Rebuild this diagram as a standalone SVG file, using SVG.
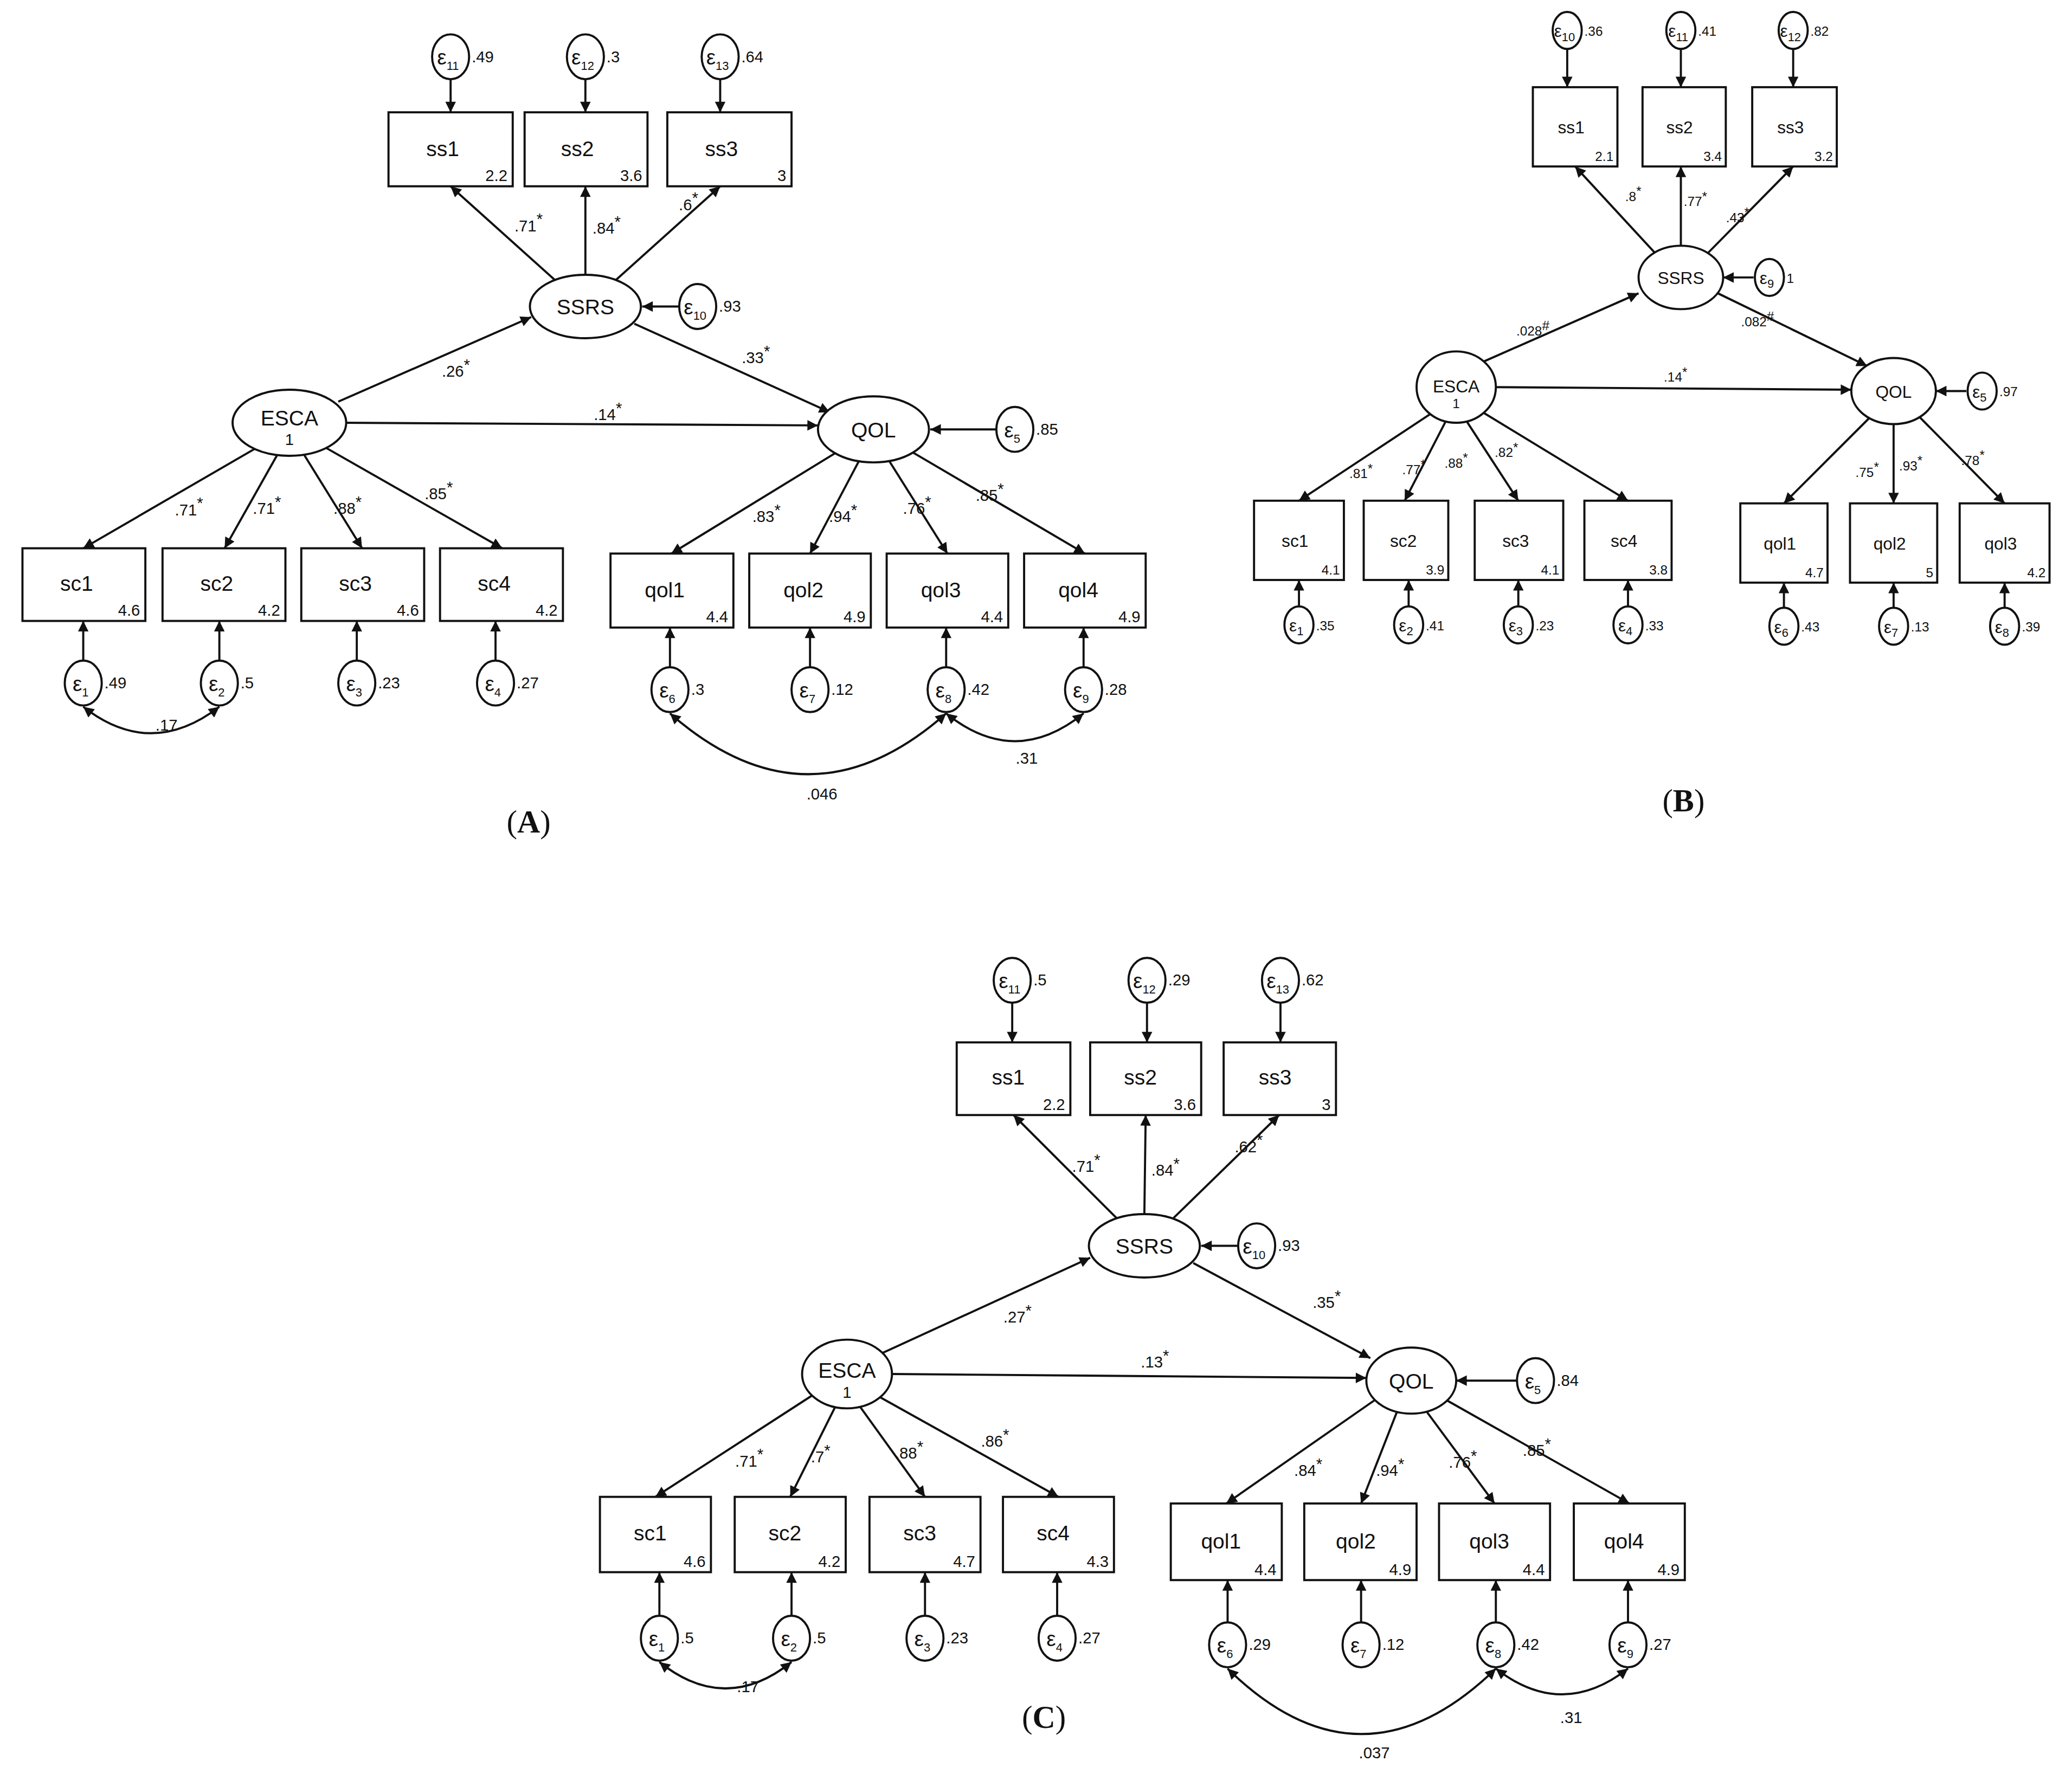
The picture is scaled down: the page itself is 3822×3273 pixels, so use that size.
<svg xmlns="http://www.w3.org/2000/svg" width="3822" height="3273" viewBox="0 0 3822 3273">
<style>
.n{fill:#fff;stroke:#111;stroke-width:1.6}
.e{fill:none;stroke:#111;stroke-width:1.6;marker-end:url(#ah)}
.c{fill:none;stroke:#111;stroke-width:1.6;marker-end:url(#ah);marker-start:url(#ah)}
text{font-family:"Liberation Sans",Arial,sans-serif;fill:#111}
.L{font-size:16px;text-anchor:middle}
.s{font-size:12px}
.sb{font-size:9px}
.l{font-size:12px;text-anchor:middle}
.bL{font-size:13px;text-anchor:middle}
.bs{font-size:10px}
.bl{font-size:10px;text-anchor:middle}
.P{font-family:"Liberation Serif","Times New Roman",serif;font-size:24px;text-anchor:middle}
</style>
<defs>
<marker id="ah" viewBox="0 0 10 10" refX="10" refY="5" markerWidth="6" markerHeight="5" orient="auto-start-reverse"><path d="M0,0L10,5L0,10z" fill="#111"/></marker>
</defs>
<rect width="3822" height="3273" fill="#fff"/>
<g transform="scale(2.4375)">
<!-- Panel A connectors -->
<g id="connA">
<path class="e" d="M341,60L341,85"/><path class="e" d="M443,60L443,85"/><path class="e" d="M545,60L545,85"/>
<path class="e" d="M420,212L341,141"/><path class="e" d="M443,208L443,141"/><path class="e" d="M466,212L545,141"/>
<path class="e" d="M514,232L486,232"/>
<path class="e" d="M256,304L402,240"/><path class="e" d="M480,245L628,312"/><path class="e" d="M262,320L619,322"/>
<path class="e" d="M754,325L704,325"/>
<path class="e" d="M194,339L63,415"/><path class="e" d="M210,344L170,415"/><path class="e" d="M230,344L274,415"/><path class="e" d="M245,338L380,415"/>
<path class="e" d="M632,343L508,419"/><path class="e" d="M650,349L613,419"/><path class="e" d="M673,349L717,419"/><path class="e" d="M690,342L821,419"/>
<path class="e" d="M63,500L63,470"/><path class="e" d="M166,500L166,470"/><path class="e" d="M270,500L270,470"/><path class="e" d="M375,500L375,470"/>
<path class="e" d="M507,505L507,475"/><path class="e" d="M613,505L613,475"/><path class="e" d="M716,505L716,475"/><path class="e" d="M820,505L820,475"/>
<path class="c" d="M63,535Q114,575 166,535"/><path class="c" d="M507,540Q612,632 716,540"/><path class="c" d="M716,540Q768,582 820,540"/>
<text class="l" x="400" y="175">.71<tspan dy="-5">*</tspan></text>
<text class="l" x="459" y="177">.84<tspan dy="-5">*</tspan></text>
<text class="l" x="521" y="159">.6<tspan dy="-5">*</tspan></text>
<text class="l" x="345" y="285">.26<tspan dy="-5">*</tspan></text>
<text class="l" x="572" y="275">.33<tspan dy="-5">*</tspan></text>
<text class="l" x="460" y="318">.14<tspan dy="-5">*</tspan></text>
<text class="l" x="143" y="390">.71<tspan dy="-5">*</tspan></text>
<text class="l" x="202" y="389">.71<tspan dy="-5">*</tspan></text>
<text class="l" x="263" y="389">.88<tspan dy="-5">*</tspan></text>
<text class="l" x="332" y="378">.85<tspan dy="-5">*</tspan></text>
<text class="l" x="580" y="395">.83<tspan dy="-5">*</tspan></text>
<text class="l" x="638" y="395">.94<tspan dy="-5">*</tspan></text>
<text class="l" x="694" y="389">.76<tspan dy="-5">*</tspan></text>
<text class="l" x="749" y="379">.85<tspan dy="-5">*</tspan></text>
<text class="l" x="126" y="553">.17</text><text class="l" x="622" y="605">.046</text><text class="l" x="777" y="578">.31</text>
</g>
<g id="A-e11"><ellipse class="n" cx="341" cy="43" rx="14" ry="17"/><text class="L" x="339" y="49">ε<tspan class="sb" dy="4">11</tspan></text><text class="s" x="357" y="47">.49</text></g>
<g id="A-e12"><ellipse class="n" cx="443" cy="43" rx="14" ry="17"/><text class="L" x="441" y="49">ε<tspan class="sb" dy="4">12</tspan></text><text class="s" x="459" y="47">.3</text></g>
<g id="A-e13"><ellipse class="n" cx="545" cy="43" rx="14" ry="17"/><text class="L" x="543" y="49">ε<tspan class="sb" dy="4">13</tspan></text><text class="s" x="561" y="47">.64</text></g>
<g id="A-ss1"><rect class="n" x="294" y="85" width="94" height="56"/><text class="L" x="335" y="118">ss1</text><text class="s" x="384" y="137" text-anchor="end">2.2</text></g>
<g id="A-ss2"><rect class="n" x="397" y="85" width="93" height="56"/><text class="L" x="437" y="118">ss2</text><text class="s" x="486" y="137" text-anchor="end">3.6</text></g>
<g id="A-ss3"><rect class="n" x="505" y="85" width="94" height="56"/><text class="L" x="546" y="118">ss3</text><text class="s" x="595" y="137" text-anchor="end">3</text></g>
<g id="A-SSRS"><ellipse class="n" cx="443" cy="232" rx="42" ry="24"/><text class="L" x="443" y="238">SSRS</text></g>
<g id="A-e10"><ellipse class="n" cx="528" cy="232" rx="14" ry="17"/><text class="L" x="526" y="238">ε<tspan class="sb" dy="4">10</tspan></text><text class="s" x="544" y="236">.93</text></g>
<g id="A-ESCA"><ellipse class="n" cx="219" cy="320" rx="43" ry="25"/><text class="L" x="219" y="322">ESCA</text><text class="l" x="219" y="337">1</text></g>
<g id="A-QOL"><ellipse class="n" cx="661" cy="325" rx="42" ry="25"/><text class="L" x="661" y="331">QOL</text></g>
<g id="A-e5"><ellipse class="n" cx="768" cy="325" rx="14" ry="17"/><text class="L" x="766" y="331">ε<tspan class="sb" dy="4">5</tspan></text><text class="s" x="784" y="329">.85</text></g>
<g id="A-sc1"><rect class="n" x="17" y="415" width="93" height="55"/><text class="L" x="58" y="447">sc1</text><text class="s" x="106" y="466" text-anchor="end">4.6</text></g>
<g id="A-sc2"><rect class="n" x="123" y="415" width="93" height="55"/><text class="L" x="164" y="447">sc2</text><text class="s" x="212" y="466" text-anchor="end">4.2</text></g>
<g id="A-sc3"><rect class="n" x="228" y="415" width="93" height="55"/><text class="L" x="269" y="447">sc3</text><text class="s" x="317" y="466" text-anchor="end">4.6</text></g>
<g id="A-sc4"><rect class="n" x="333" y="415" width="93" height="55"/><text class="L" x="374" y="447">sc4</text><text class="s" x="422" y="466" text-anchor="end">4.2</text></g>
<g id="A-qol1"><rect class="n" x="462" y="419" width="93" height="56"/><text class="L" x="503" y="452">qol1</text><text class="s" x="551" y="471" text-anchor="end">4.4</text></g>
<g id="A-qol2"><rect class="n" x="567" y="419" width="92" height="56"/><text class="L" x="608" y="452">qol2</text><text class="s" x="655" y="471" text-anchor="end">4.9</text></g>
<g id="A-qol3"><rect class="n" x="671" y="419" width="92" height="56"/><text class="L" x="712" y="452">qol3</text><text class="s" x="759" y="471" text-anchor="end">4.4</text></g>
<g id="A-qol4"><rect class="n" x="775" y="419" width="92" height="56"/><text class="L" x="816" y="452">qol4</text><text class="s" x="863" y="471" text-anchor="end">4.9</text></g>
<g id="A-e1"><ellipse class="n" cx="63" cy="517" rx="14" ry="17"/><text class="L" x="61" y="523">ε<tspan class="sb" dy="4">1</tspan></text><text class="s" x="79" y="521">.49</text></g>
<g id="A-e2"><ellipse class="n" cx="166" cy="517" rx="14" ry="17"/><text class="L" x="164" y="523">ε<tspan class="sb" dy="4">2</tspan></text><text class="s" x="182" y="521">.5</text></g>
<g id="A-e3"><ellipse class="n" cx="270" cy="517" rx="14" ry="17"/><text class="L" x="268" y="523">ε<tspan class="sb" dy="4">3</tspan></text><text class="s" x="286" y="521">.23</text></g>
<g id="A-e4"><ellipse class="n" cx="375" cy="517" rx="14" ry="17"/><text class="L" x="373" y="523">ε<tspan class="sb" dy="4">4</tspan></text><text class="s" x="391" y="521">.27</text></g>
<g id="A-e6"><ellipse class="n" cx="507" cy="522" rx="14" ry="17"/><text class="L" x="505" y="528">ε<tspan class="sb" dy="4">6</tspan></text><text class="s" x="523" y="526">.3</text></g>
<g id="A-e7"><ellipse class="n" cx="613" cy="522" rx="14" ry="17"/><text class="L" x="611" y="528">ε<tspan class="sb" dy="4">7</tspan></text><text class="s" x="629" y="526">.12</text></g>
<g id="A-e8"><ellipse class="n" cx="716" cy="522" rx="14" ry="17"/><text class="L" x="714" y="528">ε<tspan class="sb" dy="4">8</tspan></text><text class="s" x="732" y="526">.42</text></g>
<g id="A-e9"><ellipse class="n" cx="820" cy="522" rx="14" ry="17"/><text class="L" x="818" y="528">ε<tspan class="sb" dy="4">9</tspan></text><text class="s" x="836" y="526">.28</text></g>
<text class="P" x="400" y="630">(<tspan font-weight="bold">A</tspan>)</text>

<!-- Panel B -->
<g id="connB">
<path class="e" d="M1186,37L1186,66"/><path class="e" d="M1272,37L1272,66"/><path class="e" d="M1357,37L1357,66"/>
<path class="e" d="M1252,191L1192,126"/><path class="e" d="M1272,186L1272,126"/><path class="e" d="M1292,192L1357,126"/>
<path class="e" d="M1327,210L1304,210"/>
<path class="e" d="M1122,274L1240,222"/><path class="e" d="M1300,222L1413,277"/><path class="e" d="M1131,293L1401,295"/>
<path class="e" d="M1488,296L1465,296"/>
<path class="e" d="M1083,313L983,379"/><path class="e" d="M1094,319L1063,379"/><path class="e" d="M1110,319L1149,379"/><path class="e" d="M1122,312L1232,379"/>
<path class="e" d="M1415,316L1350,381"/><path class="e" d="M1433,321L1433,381"/><path class="e" d="M1452,315L1517,381"/>
<path class="e" d="M983,459L983,439"/><path class="e" d="M1066,459L1066,439"/><path class="e" d="M1149,459L1149,439"/><path class="e" d="M1232,459L1232,439"/>
<path class="e" d="M1350,460L1350,441"/><path class="e" d="M1433,460L1433,441"/><path class="e" d="M1517,460L1517,441"/>
<text class="bl" x="1236" y="152">.8<tspan dy="-4">*</tspan></text>
<text class="bl" x="1283" y="156">.77<tspan dy="-4">*</tspan></text>
<text class="bl" x="1315" y="168">.43<tspan dy="-4">*</tspan></text>
<text class="bl" x="1160" y="254">.028<tspan dy="-4">#</tspan></text>
<text class="bl" x="1330" y="247">.082<tspan dy="-4">#</tspan></text>
<text class="bl" x="1268" y="289">.14<tspan dy="-4">*</tspan></text>
<text class="bl" x="1030" y="362">.81<tspan dy="-4">*</tspan></text>
<text class="bl" x="1070" y="359">.77<tspan dy="-4">*</tspan></text>
<text class="bl" x="1102" y="354">.88<tspan dy="-4">*</tspan></text>
<text class="bl" x="1140" y="346">.82<tspan dy="-4">*</tspan></text>
<text class="bl" x="1413" y="361">.75<tspan dy="-4">*</tspan></text>
<text class="bl" x="1446" y="356">.93<tspan dy="-4">*</tspan></text>
<text class="bl" x="1493" y="352">.78<tspan dy="-4">*</tspan></text>
</g>
<g id="B-e10"><ellipse class="n" cx="1186" cy="23" rx="11" ry="14"/><text class="bL" x="1184" y="28">ε<tspan class="sb" font-size="7" dy="3">10</tspan></text><text class="bs" x="1199" y="27">.36</text></g>
<g id="B-e11"><ellipse class="n" cx="1272" cy="23" rx="11" ry="14"/><text class="bL" x="1270" y="28">ε<tspan class="sb" font-size="7" dy="3">11</tspan></text><text class="bs" x="1285" y="27">.41</text></g>
<g id="B-e12"><ellipse class="n" cx="1357" cy="23" rx="11" ry="14"/><text class="bL" x="1355" y="28">ε<tspan class="sb" font-size="7" dy="3">12</tspan></text><text class="bs" x="1370" y="27">.82</text></g>
<g id="B-ss1"><rect class="n" x="1160" y="66" width="64" height="60"/><text class="bL" x="1189" y="101">ss1</text><text class="bs" x="1221" y="122" text-anchor="end">2.1</text></g>
<g id="B-ss2"><rect class="n" x="1243" y="66" width="63" height="60"/><text class="bL" x="1271" y="101">ss2</text><text class="bs" x="1303" y="122" text-anchor="end">3.4</text></g>
<g id="B-ss3"><rect class="n" x="1326" y="66" width="64" height="60"/><text class="bL" x="1355" y="101">ss3</text><text class="bs" x="1387" y="122" text-anchor="end">3.2</text></g>
<g id="B-SSRS"><ellipse class="n" cx="1272" cy="210" rx="32" ry="24"/><text class="bL" x="1272" y="215">SSRS</text></g>
<g id="B-e9"><ellipse class="n" cx="1339" cy="210" rx="11" ry="14"/><text class="bL" x="1337" y="215">ε<tspan class="sb" font-size="7" dy="3">9</tspan></text><text class="bs" x="1352" y="214">1</text></g>
<g id="B-ESCA"><ellipse class="n" cx="1102" cy="293" rx="30" ry="27"/><text class="bL" x="1102" y="297">ESCA</text><text class="bl" x="1102" y="309">1</text></g>
<g id="B-QOL"><ellipse class="n" cx="1433" cy="296" rx="32" ry="25"/><text class="bL" x="1433" y="301">QOL</text></g>
<g id="B-e5"><ellipse class="n" cx="1500" cy="296" rx="11" ry="14"/><text class="bL" x="1498" y="301">ε<tspan class="sb" font-size="7" dy="3">5</tspan></text><text class="bs" x="1513" y="300">.97</text></g>
<g id="B-sc1"><rect class="n" x="949" y="379" width="68" height="60"/><text class="bL" x="980" y="414">sc1</text><text class="bs" x="1014" y="435" text-anchor="end">4.1</text></g>
<g id="B-sc2"><rect class="n" x="1032" y="379" width="64" height="60"/><text class="bL" x="1062" y="414">sc2</text><text class="bs" x="1093" y="435" text-anchor="end">3.9</text></g>
<g id="B-sc3"><rect class="n" x="1116" y="379" width="67" height="60"/><text class="bL" x="1147" y="414">sc3</text><text class="bs" x="1180" y="435" text-anchor="end">4.1</text></g>
<g id="B-sc4"><rect class="n" x="1199" y="379" width="66" height="60"/><text class="bL" x="1229" y="414">sc4</text><text class="bs" x="1262" y="435" text-anchor="end">3.8</text></g>
<g id="B-qol1"><rect class="n" x="1317" y="381" width="66" height="60"/><text class="bL" x="1347" y="416">qol1</text><text class="bs" x="1380" y="437" text-anchor="end">4.7</text></g>
<g id="B-qol2"><rect class="n" x="1400" y="381" width="66" height="60"/><text class="bL" x="1430" y="416">qol2</text><text class="bs" x="1463" y="437" text-anchor="end">5</text></g>
<g id="B-qol3"><rect class="n" x="1483" y="381" width="68" height="60"/><text class="bL" x="1514" y="416">qol3</text><text class="bs" x="1548" y="437" text-anchor="end">4.2</text></g>
<g id="B-e1"><ellipse class="n" cx="983" cy="473" rx="11" ry="14"/><text class="bL" x="981" y="478">ε<tspan class="sb" font-size="7" dy="3">1</tspan></text><text class="bs" x="996" y="477">.35</text></g>
<g id="B-e2"><ellipse class="n" cx="1066" cy="473" rx="11" ry="14"/><text class="bL" x="1064" y="478">ε<tspan class="sb" font-size="7" dy="3">2</tspan></text><text class="bs" x="1079" y="477">.41</text></g>
<g id="B-e3"><ellipse class="n" cx="1149" cy="473" rx="11" ry="14"/><text class="bL" x="1147" y="478">ε<tspan class="sb" font-size="7" dy="3">3</tspan></text><text class="bs" x="1162" y="477">.23</text></g>
<g id="B-e4"><ellipse class="n" cx="1232" cy="473" rx="11" ry="14"/><text class="bL" x="1230" y="478">ε<tspan class="sb" font-size="7" dy="3">4</tspan></text><text class="bs" x="1245" y="477">.33</text></g>
<g id="B-e6"><ellipse class="n" cx="1350" cy="474" rx="11" ry="14"/><text class="bL" x="1348" y="479">ε<tspan class="sb" font-size="7" dy="3">6</tspan></text><text class="bs" x="1363" y="478">.43</text></g>
<g id="B-e7"><ellipse class="n" cx="1433" cy="474" rx="11" ry="14"/><text class="bL" x="1431" y="479">ε<tspan class="sb" font-size="7" dy="3">7</tspan></text><text class="bs" x="1446" y="478">.13</text></g>
<g id="B-e8"><ellipse class="n" cx="1517" cy="474" rx="11" ry="14"/><text class="bL" x="1515" y="479">ε<tspan class="sb" font-size="7" dy="3">8</tspan></text><text class="bs" x="1530" y="478">.39</text></g>
<text class="P" x="1274" y="614">(<tspan font-weight="bold">B</tspan>)</text>

<!-- Panel C -->
<g id="connC">
<path class="e" d="M766,759L766,789"/><path class="e" d="M868,759L868,789"/><path class="e" d="M969,759L969,789"/>
<path class="e" d="M845,922L767,844"/><path class="e" d="M866,919L867,844"/><path class="e" d="M888,922L968,844"/>
<path class="e" d="M937,943L909,943"/>
<path class="e" d="M668,1024L825,952"/><path class="e" d="M903,956L1037,1028"/><path class="e" d="M675,1040L1034,1043"/>
<path class="e" d="M1148,1045L1102,1045"/>
<path class="e" d="M615,1056L496,1133"/><path class="e" d="M632,1065L598,1133"/><path class="e" d="M651,1065L700,1133"/><path class="e" d="M665,1057L801,1133"/>
<path class="e" d="M1040,1060L928,1138"/><path class="e" d="M1057,1069L1030,1138"/><path class="e" d="M1080,1069L1131,1138"/><path class="e" d="M1095,1060L1233,1138"/>
<path class="e" d="M499,1223L499,1190"/><path class="e" d="M599,1223L599,1190"/><path class="e" d="M700,1223L700,1190"/><path class="e" d="M800,1223L800,1190"/>
<path class="e" d="M929,1228L929,1196"/><path class="e" d="M1030,1228L1030,1196"/><path class="e" d="M1132,1228L1132,1196"/><path class="e" d="M1232,1228L1232,1196"/>
<path class="c" d="M499,1258Q549,1298 599,1258"/><path class="c" d="M929,1263Q1030,1362 1132,1263"/><path class="c" d="M1132,1263Q1182,1302 1232,1263"/>
<text class="l" x="822" y="887">.71<tspan dy="-5">*</tspan></text>
<text class="l" x="882" y="890">.84<tspan dy="-5">*</tspan></text>
<text class="l" x="945" y="872">.62<tspan dy="-5">*</tspan></text>
<text class="l" x="770" y="1001">.27<tspan dy="-5">*</tspan></text>
<text class="l" x="1004" y="990">.35<tspan dy="-5">*</tspan></text>
<text class="l" x="874" y="1035">.13<tspan dy="-5">*</tspan></text>
<text class="l" x="567" y="1110">.71<tspan dy="-5">*</tspan></text>
<text class="l" x="621" y="1107">.7<tspan dy="-5">*</tspan></text>
<text class="l" x="688" y="1104">.88<tspan dy="-5">*</tspan></text>
<text class="l" x="753" y="1095">.86<tspan dy="-5">*</tspan></text>
<text class="l" x="990" y="1117">.84<tspan dy="-5">*</tspan></text>
<text class="l" x="1052" y="1117">.94<tspan dy="-5">*</tspan></text>
<text class="l" x="1107" y="1111">.76<tspan dy="-5">*</tspan></text>
<text class="l" x="1163" y="1102">.85<tspan dy="-5">*</tspan></text>
<text class="l" x="566" y="1281">.17</text><text class="l" x="1040" y="1331">.037</text><text class="l" x="1189" y="1304">.31</text>
</g>
<g id="C-e11"><ellipse class="n" cx="766" cy="742" rx="14" ry="17"/><text class="L" x="764" y="748">ε<tspan class="sb" dy="4">11</tspan></text><text class="s" x="782" y="746">.5</text></g>
<g id="C-e12"><ellipse class="n" cx="868" cy="742" rx="14" ry="17"/><text class="L" x="866" y="748">ε<tspan class="sb" dy="4">12</tspan></text><text class="s" x="884" y="746">.29</text></g>
<g id="C-e13"><ellipse class="n" cx="969" cy="742" rx="14" ry="17"/><text class="L" x="967" y="748">ε<tspan class="sb" dy="4">13</tspan></text><text class="s" x="985" y="746">.62</text></g>
<g id="C-ss1"><rect class="n" x="724" y="789" width="86" height="55"/><text class="L" x="763" y="821">ss1</text><text class="s" x="806" y="840" text-anchor="end">2.2</text></g>
<g id="C-ss2"><rect class="n" x="825" y="789" width="84" height="55"/><text class="L" x="863" y="821">ss2</text><text class="s" x="905" y="840" text-anchor="end">3.6</text></g>
<g id="C-ss3"><rect class="n" x="926" y="789" width="85" height="55"/><text class="L" x="965" y="821">ss3</text><text class="s" x="1007" y="840" text-anchor="end">3</text></g>
<g id="C-SSRS"><ellipse class="n" cx="866" cy="943" rx="42" ry="24"/><text class="L" x="866" y="949">SSRS</text></g>
<g id="C-e10"><ellipse class="n" cx="951" cy="943" rx="14" ry="17"/><text class="L" x="949" y="949">ε<tspan class="sb" dy="4">10</tspan></text><text class="s" x="967" y="947">.93</text></g>
<g id="C-ESCA"><ellipse class="n" cx="641" cy="1040" rx="34" ry="26"/><text class="L" x="641" y="1043">ESCA</text><text class="l" x="641" y="1058">1</text></g>
<g id="C-QOL"><ellipse class="n" cx="1068" cy="1045" rx="34" ry="25"/><text class="L" x="1068" y="1051">QOL</text></g>
<g id="C-e5"><ellipse class="n" cx="1162" cy="1045" rx="14" ry="17"/><text class="L" x="1160" y="1051">ε<tspan class="sb" dy="4">5</tspan></text><text class="s" x="1178" y="1049">.84</text></g>
<g id="C-sc1"><rect class="n" x="454" y="1133" width="84" height="57"/><text class="L" x="492" y="1166">sc1</text><text class="s" x="534" y="1186" text-anchor="end">4.6</text></g>
<g id="C-sc2"><rect class="n" x="556" y="1133" width="84" height="57"/><text class="L" x="594" y="1166">sc2</text><text class="s" x="636" y="1186" text-anchor="end">4.2</text></g>
<g id="C-sc3"><rect class="n" x="658" y="1133" width="84" height="57"/><text class="L" x="696" y="1166">sc3</text><text class="s" x="738" y="1186" text-anchor="end">4.7</text></g>
<g id="C-sc4"><rect class="n" x="759" y="1133" width="84" height="57"/><text class="L" x="797" y="1166">sc4</text><text class="s" x="839" y="1186" text-anchor="end">4.3</text></g>
<g id="C-qol1"><rect class="n" x="886" y="1138" width="84" height="58"/><text class="L" x="924" y="1172">qol1</text><text class="s" x="966" y="1192" text-anchor="end">4.4</text></g>
<g id="C-qol2"><rect class="n" x="987" y="1138" width="85" height="58"/><text class="L" x="1026" y="1172">qol2</text><text class="s" x="1068" y="1192" text-anchor="end">4.9</text></g>
<g id="C-qol3"><rect class="n" x="1089" y="1138" width="84" height="58"/><text class="L" x="1127" y="1172">qol3</text><text class="s" x="1169" y="1192" text-anchor="end">4.4</text></g>
<g id="C-qol4"><rect class="n" x="1191" y="1138" width="84" height="58"/><text class="L" x="1229" y="1172">qol4</text><text class="s" x="1271" y="1192" text-anchor="end">4.9</text></g>
<g id="C-e1"><ellipse class="n" cx="499" cy="1240" rx="14" ry="17"/><text class="L" x="497" y="1246">ε<tspan class="sb" dy="4">1</tspan></text><text class="s" x="515" y="1244">.5</text></g>
<g id="C-e2"><ellipse class="n" cx="599" cy="1240" rx="14" ry="17"/><text class="L" x="597" y="1246">ε<tspan class="sb" dy="4">2</tspan></text><text class="s" x="615" y="1244">.5</text></g>
<g id="C-e3"><ellipse class="n" cx="700" cy="1240" rx="14" ry="17"/><text class="L" x="698" y="1246">ε<tspan class="sb" dy="4">3</tspan></text><text class="s" x="716" y="1244">.23</text></g>
<g id="C-e4"><ellipse class="n" cx="800" cy="1240" rx="14" ry="17"/><text class="L" x="798" y="1246">ε<tspan class="sb" dy="4">4</tspan></text><text class="s" x="816" y="1244">.27</text></g>
<g id="C-e6"><ellipse class="n" cx="929" cy="1245" rx="14" ry="17"/><text class="L" x="927" y="1251">ε<tspan class="sb" dy="4">6</tspan></text><text class="s" x="945" y="1249">.29</text></g>
<g id="C-e7"><ellipse class="n" cx="1030" cy="1245" rx="14" ry="17"/><text class="L" x="1028" y="1251">ε<tspan class="sb" dy="4">7</tspan></text><text class="s" x="1046" y="1249">.12</text></g>
<g id="C-e8"><ellipse class="n" cx="1132" cy="1245" rx="14" ry="17"/><text class="L" x="1130" y="1251">ε<tspan class="sb" dy="4">8</tspan></text><text class="s" x="1148" y="1249">.42</text></g>
<g id="C-e9"><ellipse class="n" cx="1232" cy="1245" rx="14" ry="17"/><text class="L" x="1230" y="1251">ε<tspan class="sb" dy="4">9</tspan></text><text class="s" x="1248" y="1249">.27</text></g>
<text class="P" x="790" y="1308">(<tspan font-weight="bold">C</tspan>)</text>
</g>
</svg>
